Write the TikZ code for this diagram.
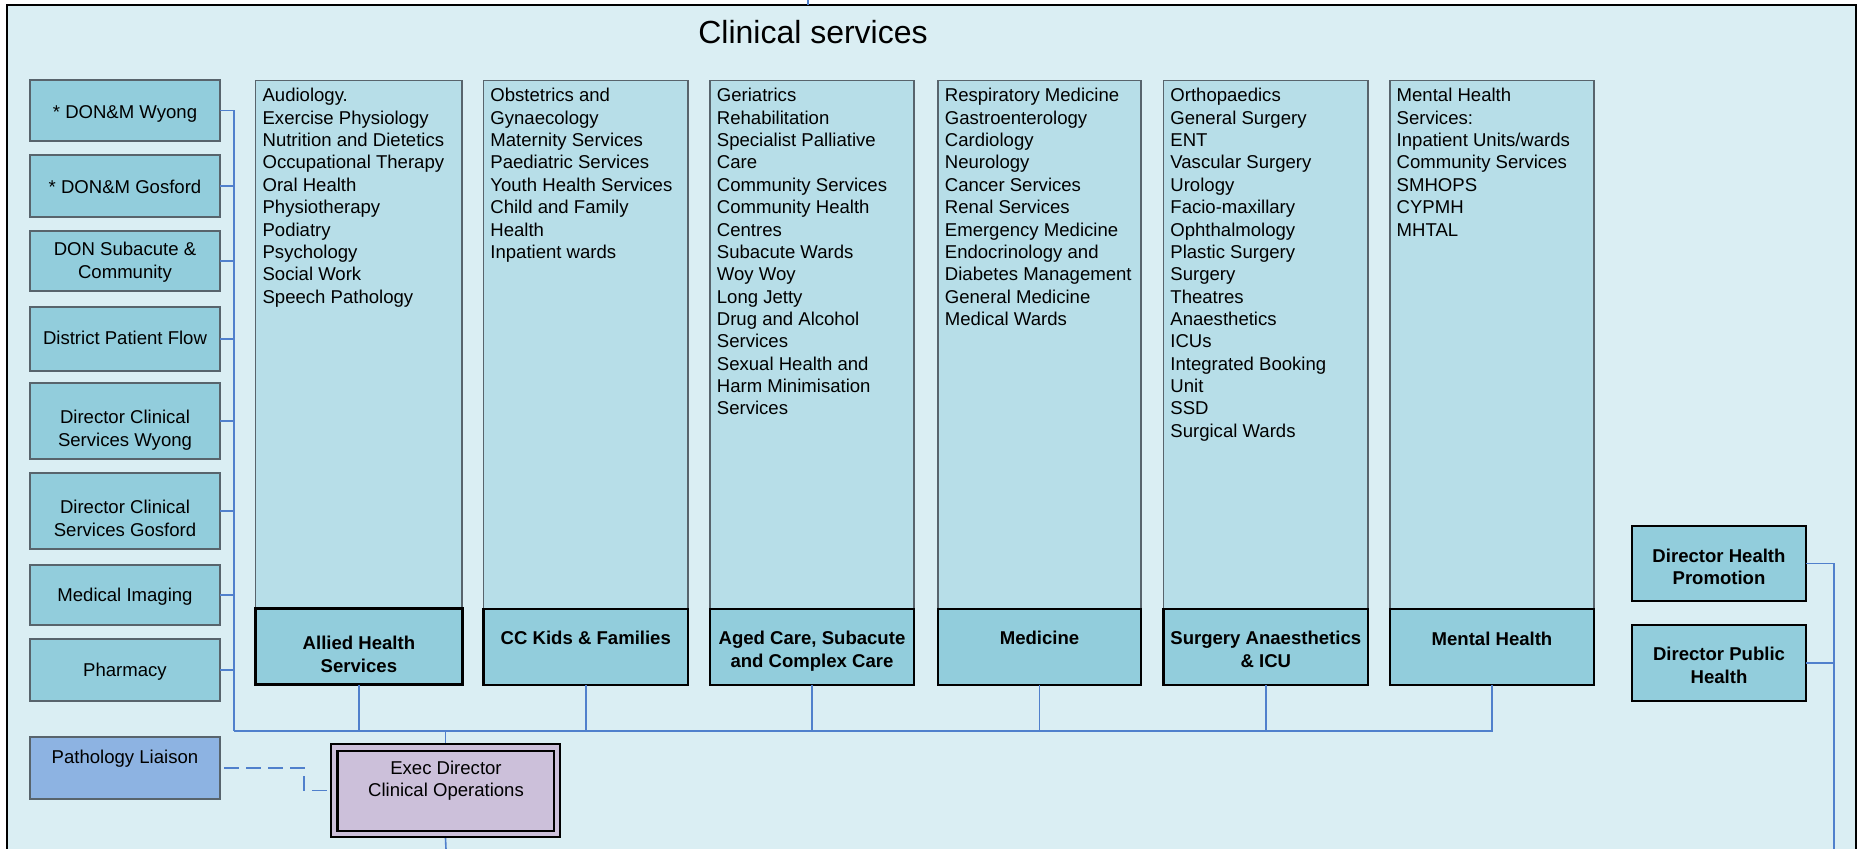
\documentclass[tikz,border=0pt]{standalone}
\usepackage{fontspec}
\setmainfont{Liberation Sans}
\usetikzlibrary{fit}
\definecolor{frameFill}{HTML}{DAEEF3}
\definecolor{colFill}{HTML}{B7DEE8}
\definecolor{boxFill}{HTML}{92CDDC}
\definecolor{pathFill}{HTML}{8DB3E2}
\definecolor{execFill}{HTML}{CCC0DA}
\definecolor{connC}{HTML}{5080CC}
\definecolor{bord}{HTML}{58646C}
\newcommand\dfont{\fontsize{9.28pt}{11.18pt}\selectfont}
\newcommand\ml[2]{\begin{tabular}[t]{@{}#1@{}}#2\end{tabular}}
\begin{document}
\begin{tikzpicture}[x=0.5pt,y=-0.5pt,
  frame/.style={draw=black, line width=1pt, fill=frameFill, inner sep=0pt, outer sep=0pt},
  lbox/.style={draw=bord, line width=0.7pt, fill=boxFill, inner sep=0pt, outer sep=0pt},
  colbox/.style={draw=bord, line width=0.65pt, fill=colFill, inner sep=0pt, outer sep=0pt},
  hbox/.style={draw=black, line width=1.1pt, fill=boxFill, inner sep=0pt, outer sep=0pt},
  conn/.style={draw=connC, line width=0.8pt},
  txt/.style={inner sep=0pt, font=\dfont, anchor=base},
  ltxt/.style={txt, anchor=base west},
  btxt/.style={txt, font=\dfont\bfseries}]
\useasboundingbox (0,0) rectangle (1864,849);
\clip (0,0) rectangle (1864,849);

% frame
\node[frame, fit={(7.3,4.7) (1855.7,880)}] (frame) {};
\node[txt, font=\fontsize{16pt}{19pt}\selectfont] (title) at (813,43.3) {Clinical services};

% left boxes
\node[lbox, fit={(30,80) (220,141)}] (wy) {};
\node[lbox, fit={(30,155) (220,217)}] (gos) {};
\node[lbox, fit={(30,231) (220,291)}] (dsc) {};
\node[lbox, fit={(30,307) (220,371)}] (dpf) {};
\node[lbox, fit={(30,383) (220,459)}] (dcw) {};
\node[lbox, fit={(30,473) (220,549)}] (dcg) {};
\node[lbox, fit={(30,565) (220,625)}] (mi) {};
\node[lbox, fit={(30,639) (220,701)}] (ph) {};
\node[lbox, fill=pathFill, fit={(30,737) (220,799)}] (pl) {};
\node[txt] (twy) at (125,118.3) {* DON\&M Wyong};
\node[txt] (tgos) at (125,193.3) {* DON\&M Gosford};
\node[txt] (tdsc) at (125,256) {\ml{c}{DON Subacute \&\\Community}};
\node[txt] (tdpf) at (125,345) {District Patient Flow};
\node[txt] (tdcw) at (125,424) {\ml{c}{Director Clinical\\Services Wyong}};
\node[txt] (tdcg) at (125,514) {\ml{c}{Director Clinical\\Services Gosford}};
\node[txt] (tmi) at (125,601.7) {Medical Imaging};
\node[txt] (tph) at (125,677) {Pharmacy};
\node[txt] (tpl) at (125,763) {Pathology Liaison};

% columns
\node[colbox, fit={(255.7,80.5) (462,609)}] (c1) {};
\node[colbox, fit={(483.5,80.5) (688,609)}] (c2) {};
\node[colbox, fit={(710,80.5) (914,609)}] (c3) {};
\node[colbox, fit={(938,80.5) (1141,609)}] (c4) {};
\node[colbox, fit={(1163.5,80.5) (1368,609)}] (c5) {};
\node[colbox, fit={(1390,80.5) (1594,609)}] (c6) {};

\node[ltxt] (tc1) at (262.2,101.9) {\ml{l}{Audiology.\\Exercise Physiology\\Nutrition and Dietetics\\Occupational Therapy\\Oral Health\\Physiotherapy\\Podiatry\\Psychology\\Social Work\\Speech Pathology}};
\node[ltxt] (tc2) at (490,101.9) {\ml{l}{Obstetrics and\\Gynaecology\\Maternity Services\\Paediatric Services\\Youth Health Services\\Child and Family\\Health\\Inpatient wards}};
\node[ltxt] (tc3) at (716.5,101.9) {\ml{l}{Geriatrics\\Rehabilitation\\Specialist Palliative\\Care\\Community Services\\Community Health\\Centres\\Subacute Wards\\Woy Woy\\Long Jetty\\Drug and Alcohol\\Services\\Sexual Health and\\Harm Minimisation\\Services}};
\node[ltxt] (tc4) at (944.5,101.9) {\ml{l}{Respiratory Medicine\\Gastroenterology\\Cardiology\\Neurology\\Cancer Services\\Renal Services\\Emergency Medicine\\Endocrinology and\\Diabetes Management\\General Medicine\\Medical Wards}};
\node[ltxt] (tc5) at (1170,101.9) {\ml{l}{Orthopaedics\\General Surgery\\ENT\\Vascular Surgery\\Urology\\Facio-maxillary\\Ophthalmology\\Plastic Surgery\\Surgery\\Theatres\\Anaesthetics\\ICUs\\Integrated Booking\\Unit\\SSD\\Surgical Wards}};
\node[ltxt] (tc6) at (1396.3,101.9) {\ml{l}{Mental Health\\Services:\\Inpatient Units/wards\\Community Services\\SMHOPS\\CYPMH\\MHTAL}};

% heads of columns
\node[hbox, line width=1.5pt, fit={(255.7,609) (462,685)}] (ah) {};
\node[hbox, fit={(483.5,609) (688,685)}] (kf) {};
\node[hbox, fit={(710,609) (914,685)}] (ac) {};
\node[hbox, fit={(938,609) (1141,685)}] (me) {};
\node[hbox, fit={(1163.5,609) (1368,685)}] (sa) {};
\node[hbox, fit={(1390,609) (1594,685)}] (mh) {};
\node[btxt] (tah) at (358.9,650) {\ml{c}{Allied Health\\Services}};
\node[btxt] (tkf) at (585.8,645) {CC Kids \& Families};
\node[btxt] (tac) at (812,645) {\ml{c}{Aged Care, Subacute\\and Complex Care}};
\node[btxt] (tme) at (1039.5,645) {Medicine};
\node[btxt] (tsa) at (1265.8,645) {\ml{c}{Surgery Anaesthetics\\\& ICU}};
\node[btxt] (tmh) at (1492,645.7) {Mental Health};

% right boxes
\node[hbox, line width=1pt, fit={(1632,526) (1806,601)}] (dhp) {};
\node[hbox, line width=1pt, fit={(1632,625) (1806,701)}] (dph) {};
\node[btxt] (tdhp) at (1719,562.3) {\ml{c}{Director Health\\Promotion}};
\node[btxt] (tdph) at (1719,660.7) {\ml{c}{Director Public\\Health}};

% exec
\node[draw=black, line width=1.1pt, fill=execFill, inner sep=0pt, fit={(331,744) (560,837)}] (exec) {};
\node[draw=black, line width=1.15pt, fill=execFill, inner sep=0pt, fit={(337.5,751) (554,831)}] (execin) {};
\node[txt] (texec) at (446,774) {\ml{c}{Exec Director\\Clinical Operations}};

% connectors
\coordinate (busL) at (234,731);
\coordinate (topC) at (808,0);
\coordinate (botE) at (446,849);
\coordinate (rb) at (1834,849);
\coordinate (dk) at (304,780);

\draw[conn] (topC) -- (topC |- frame.north);
\draw[conn] (wy.east) -| (busL);
\foreach \b in {gos,dsc,dpf,dcw,dcg,mi,ph}{
  \draw[conn] (\b.east) -- (\b.east -| busL);
}
\draw[conn] (busL) -| (mh.south);
\foreach \b in {ah,kf,ac,me,sa}{
  \draw[conn] (\b.south) -- (\b.south |- busL);
}
\draw[conn] (exec.north) -- (exec.north |- busL);
\draw[conn] (exec.south) -- (botE);
\draw[conn, dash pattern=on 7.5pt off 3.5pt] ([xshift=2.2pt]pl.east) -| (dk) |- (exec.west);
\draw[conn] (dhp.east) -| (rb);
\draw[conn] (dph.east) -- (dph.east -| rb);
\end{tikzpicture}
\end{document}
